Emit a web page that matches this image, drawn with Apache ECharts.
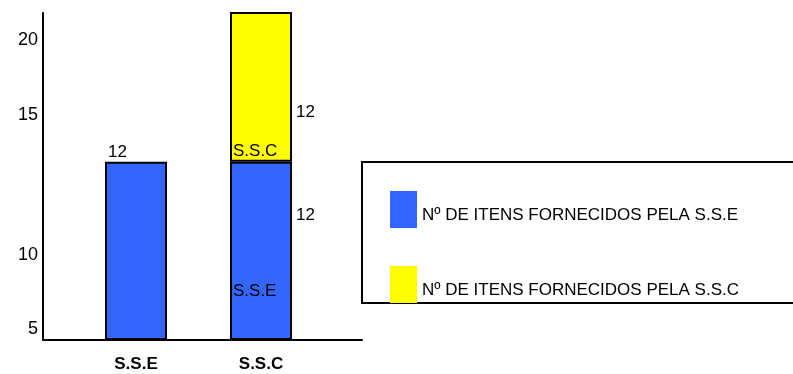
<!DOCTYPE html>
<html>
<head>
<meta charset="utf-8">
<script src="https://cdn.jsdelivr.net/npm/echarts@6/dist/echarts.min.js"></script>
<style>
  html, body { margin: 0; padding: 0; background: #fff; }
  #chart { width: 793px; height: 374px; }
</style>
</head>
<body>
<div id="chart"></div>
<script>
// Categories and values
const categories = ['S.S.E', 'S.S.C'];
const seriesNames = ['Nº DE ITENS FORNECIDOS PELA S.S.E', 'Nº DE ITENS FORNECIDOS PELA S.S.C'];
const itensSSE = [12, 12];      // blue segment per category
const itensSSC = [null, 12];    // yellow segment per category
const segmentTags = ['S.S.E', 'S.S.C'];

// Y tick labels and where they sit on the value scale
const yTickLabels = ['5', '10', '15', '20'];
const yTickAt = [0.74, 5.72, 15.14, 20.18];

const FONT = "'Liberation Sans', Arial, sans-serif";
const BLUE = '#3366FF';
const YELLOW = '#FFFF00';
const Y_MAX = 22;

const chart = echarts.init(document.getElementById('chart'));

const valueLabel = (pos, show) => ({
  show: show, position: pos, align: 'left', verticalAlign: 'middle',
  color: '#000', fontFamily: FONT, fontSize: 17
});

const tagLabel = (pos, show, text) => ({
  show: show, position: pos, align: 'left', verticalAlign: 'middle',
  color: '#000', fontFamily: FONT, fontSize: 17, formatter: text
});

const option = {
  animation: false,
  backgroundColor: '#fff',
  grid: [
    // plot area holding the columns
    { left: 73.5, width: 250, top: 13, bottom: 34 },
    // frame carrying the axis lines and value labels
    { left: 43, right: 431, top: 13, bottom: 34 }
  ],
  xAxis: [
    {
      gridIndex: 0, type: 'category', data: categories,
      axisTick: { show: false }, axisLine: { show: false },
      axisLabel: { color: '#000', fontFamily: FONT, fontSize: 17, fontWeight: 'bold', margin: 16 }
    },
    {
      gridIndex: 1, type: 'value', min: 0, max: 1,
      splitLine: { show: false }, axisTick: { show: false }, axisLabel: { show: false },
      axisLine: { show: true, lineStyle: { color: '#000', width: 2 } }
    }
  ],
  yAxis: [
    { gridIndex: 0, type: 'value', min: 0, max: Y_MAX, show: false },
    {
      gridIndex: 1, type: 'value', min: 0, max: Y_MAX,
      splitLine: { show: false }, axisTick: { show: false },
      axisLine: { show: true, lineStyle: { color: '#000', width: 2 } },
      axisLabel: {
        customValues: yTickAt,
        formatter: v => yTickLabels[yTickAt.indexOf(v)] || '',
        color: '#000', fontFamily: FONT, fontSize: 18, margin: 5
      }
    }
  ],
  legend: {
    orient: 'vertical', left: 362, top: 162,
    data: seriesNames,
    icon: 'rect', itemWidth: 27, itemHeight: 37, itemGap: 38,
    padding: [29, 120, 0, 28],
    borderColor: '#000', borderWidth: 2,
    itemStyle: { borderWidth: 0 },
    formatter: name => '{t|' + name + '}',
    textStyle: {
      color: '#000', fontFamily: FONT, fontSize: 17,
      rich: { t: { color: '#000', fontFamily: FONT, fontSize: 17, padding: [12, 0, 0, 0] } }
    }
  },
  series: [
    {
      name: seriesNames[0], type: 'bar', stack: 'a', barWidth: 62, barGap: '-100%',
      itemStyle: { color: BLUE, borderColor: '#000', borderWidth: 2 },
      data: itensSSE.map((v, i) => ({
        value: v, label: valueLabel(i === 0 ? [3, -9.5] : [66, 54], v != null)
      }))
    },
    {
      name: seriesNames[1], type: 'bar', stack: 'a', barWidth: 62, barGap: '-100%',
      itemStyle: { color: YELLOW, borderColor: '#000', borderWidth: 2 },
      data: itensSSC.map(v => ({ value: v, label: valueLabel([66, 100], v != null) }))
    },
    // segment name tags written inside the S.S.C column
    {
      name: 'tag-sse', type: 'bar', stack: 'b', barWidth: 62, barGap: '-100%',
      itemStyle: { color: 'transparent' }, silent: true,
      data: itensSSE.map((v, i) => ({ value: v, label: tagLabel([3, 129.5], i === 1, segmentTags[0]) }))
    },
    {
      name: 'tag-ssc', type: 'bar', stack: 'b', barWidth: 62, barGap: '-100%',
      itemStyle: { color: 'transparent' }, silent: true,
      data: itensSSC.map(v => ({ value: v, label: tagLabel([3, 138.5], v != null, segmentTags[1]) }))
    }
  ]
};

chart.setOption(option);
</script>
</body>
</html>
